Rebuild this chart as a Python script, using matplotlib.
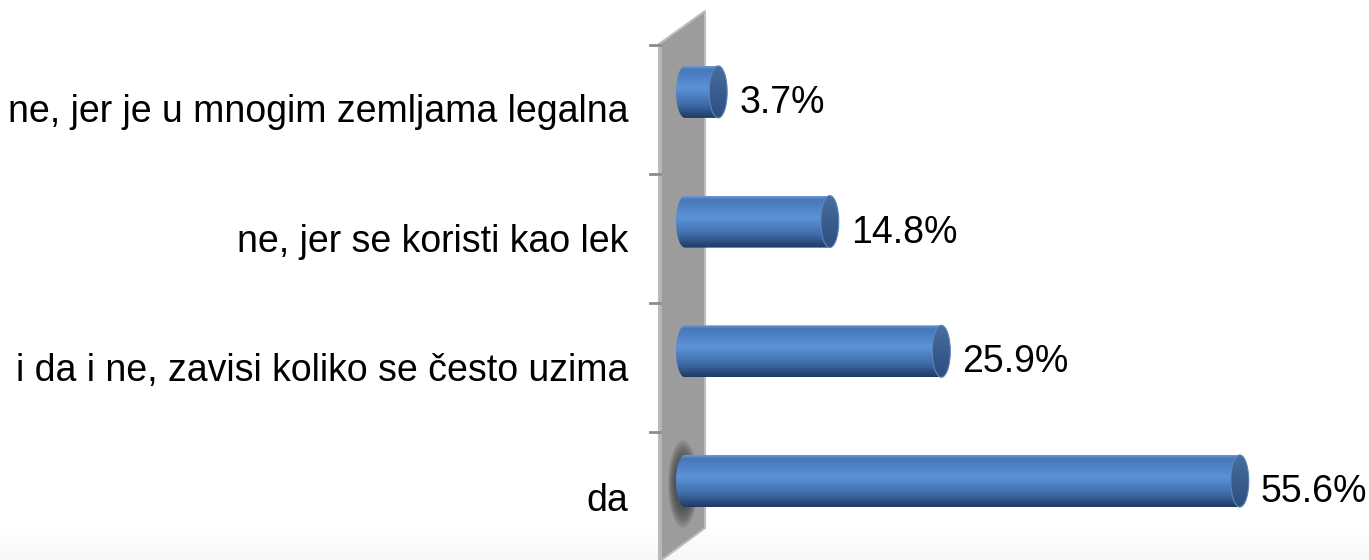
import numpy as np
import matplotlib.pyplot as plt
from matplotlib.patches import Polygon, Ellipse
from matplotlib.colors import LinearSegmentedColormap

plt.rcParams['font.family'] = ['Liberation Sans', 'DejaVu Sans']

# data (bottom to top)
categories = ['da', 'i da i ne, zavisi koliko se često uzima',
              'ne, jer se koristi kao lek', 'ne, jer je u mnogim zemljama legalna']
values = [55.6, 25.9, 14.8, 3.7]
value_labels = ['55.6%', '25.9%', '14.8%', '3.7%']

W, H = 1369, 560
PX_PER_PCT = 10.05      # horizontal pixels per percent
X0_PX = 681             # pixel where value 0 sits
ROW_PX = 129.7          # vertical pixels between categories
Y0_PX = 481             # pixel centre of first category

fig = plt.figure(figsize=(W / 100, H / 100), dpi=100)
ax = fig.add_axes([0, 0, 1, 1])
ax.set_xlim(-X0_PX / PX_PER_PCT, (W - X0_PX) / PX_PER_PCT)
ax.set_ylim((Y0_PX - H) / ROW_PX, Y0_PX / ROW_PX)
ax.axis('off')


def px(x, y):
    # pixel (from top-left) -> data coordinates, used only for the decoration
    return ((x - X0_PX) / PX_PER_PCT, (Y0_PX - y) / ROW_PX)


# faint floor
floor = np.linspace(0, 1, 50).reshape(-1, 1)
ax.imshow(floor, cmap=LinearSegmentedColormap.from_list('f', ['#ffffff', '#f7f7f7']),
          extent=[px(0, 0)[0], px(W, 0)[0], px(0, 560)[1], px(0, 528)[1]],
          aspect='auto', zorder=0)

# grey back wall in perspective
wall = Polygon([px(659, 44), px(705, 11), px(705, 528), px(659, 562)],
               closed=True, facecolor='#9c9c9c', edgecolor='#bdbdbd', lw=1.5, zorder=1)
ax.add_patch(wall)
ax.plot(*zip(px(660, 44), px(660, 562)), color='#b8b8b8', lw=2, zorder=1)

# soft shadow at bottom bar base
for k in np.linspace(1.0, 0.55, 12):
    ax.add_patch(Ellipse(px(683, 484), 30 * k / PX_PER_PCT, 88 * k / ROW_PX,
                         facecolor='#3a3a3a', edgecolor='none', alpha=0.1, zorder=2))

# ticks on the axis
for ty in [45, 174, 303, 432]:
    ax.plot(*zip(px(650, ty), px(660, ty)), color='#8c8c8c', lw=2, zorder=2)

body_cmap = LinearSegmentedColormap.from_list(
    'body', [(0, '#6b98d0'), (0.06, '#4677b8'), (0.42, '#5c93d8'),
             (0.75, '#3e6ba8'), (1, '#1f3a62')])
cap_cmap = LinearSegmentedColormap.from_list('cap', ['#46709f', '#395d8e', '#2f5080'])

a = 9 / PX_PER_PCT       # half width of end ellipse
b = 26 / ROW_PX          # half height of bar
left = 0.4
lab_drop = 30 / ROW_PX   # category label baseline below bar centre
val_drop = 21 / ROW_PX   # value label baseline below bar centre

for i, (v, lab) in enumerate(zip(values, value_labels)):
    y = i
    t1 = np.linspace(np.pi / 2, 3 * np.pi / 2, 40)
    t2 = np.linspace(-np.pi / 2, np.pi / 2, 40)
    xs = np.concatenate([left + a * np.cos(t1), v + a * np.cos(t2)])
    ys = np.concatenate([y + b * np.sin(t1), y + b * np.sin(t2)])
    shape = Polygon(np.column_stack([xs, ys]), closed=True, facecolor='none',
                    edgecolor='none', zorder=3)
    ax.add_patch(shape)
    grad = np.linspace(0, 1, 100).reshape(-1, 1)
    im = ax.imshow(grad, cmap=body_cmap, aspect='auto', zorder=3,
                   extent=[left - a, v + a, y - b, y + b], origin='upper')
    im.set_clip_path(shape)
    cap = Ellipse((v, y), 2 * a, 2 * b, facecolor='none', edgecolor='none', zorder=4)
    ax.add_patch(cap)
    im2 = ax.imshow(grad, cmap=cap_cmap, aspect='auto', zorder=4,
                    extent=[v - a, v + a, y - b, y + b], origin='upper')
    im2.set_clip_path(cap)
    ax.add_patch(Ellipse((v, y), 2 * a, 2 * b, facecolor='none',
                         edgecolor='#5d86bb', lw=0.8, zorder=5))
    ax.text(v + a + 12 / PX_PER_PCT, y - val_drop, lab, fontsize=27, va='baseline',
            ha='left', color='black', zorder=6)
    ax.text(px(628, 0)[0], y - lab_drop, categories[i], fontsize=27, va='baseline',
            ha='right', color='black', zorder=6)

fig.savefig('out.png', dpi=100)
